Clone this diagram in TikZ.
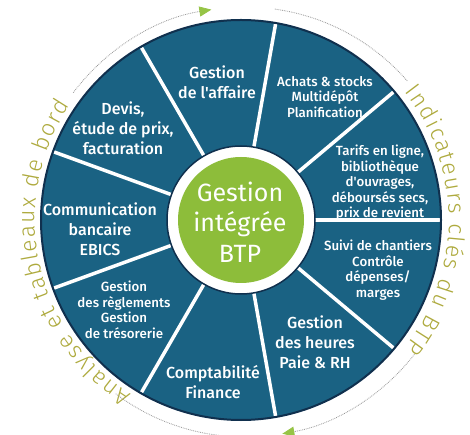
\documentclass[tikz,border=0pt]{standalone}
\usepackage{fontspec}
\setmainfont{Fira Sans}
\newfontfamily\rimfont{Fira Sans Light}
\newfontfamily\segfont{Fira Sans Medium}
\usetikzlibrary{decorations.text,arrows.meta}
\definecolor{wheelblue}{RGB}{26,98,131}
\definecolor{wheelrim}{RGB}{16,48,78}
\definecolor{hubgreen}{RGB}{141,189,58}
\definecolor{rimtext}{RGB}{174,170,62}
\definecolor{dotgrey}{RGB}{150,150,150}
\definecolor{tipgreen}{RGB}{150,196,70}
\begin{document}
\begin{tikzpicture}[x=1pt,y=1pt,
  lbl/.style={text=white, align=center, inner sep=0pt},
  big/.style={lbl, font=\segfont\fontsize{16}{20}\selectfont},
  small/.style={lbl, font=\segfont\fontsize{13.3}{15.5}\selectfont},
  loop/.style={dotgrey, densely dotted, line width=0.8pt, shift={(4,-2)}},
  rim/.style={decorate, decoration={text along path, text align=fit to path,
    text color=rimtext, text={|\rimfont\fontsize{23}{23}\selectfont|#1}}}]
\useasboundingbox (-241,-215) rectangle (229,220);
\fill[wheelblue] (0,0) circle[radius=200pt];
\foreach \a in {0,40,...,320}
  \draw[white, line width=3.5pt] (\a:74pt) -- (\a:199pt);
\draw[wheelrim, line width=2pt] (0,0) circle[radius=200pt];
\draw[wheelrim, line width=1.5pt, fill=white] (0,0) circle[radius=74pt];
\fill[hubgreen] (0,0) circle[radius=63pt];
\node[lbl, font=\fontsize{25}{30.5}\selectfont] (hub) at (-1,-2) {Gestion\\intégrée\\BTP};
\node[big] (affaire) at (-24,138) {Gestion\\de l'affaire};
\node[small] (achats) at (84,123) {Achats \& stocks\\Multidépôt\\Planification};
\node[small] (tarifs) at (139,37) {Tarifs en ligne,\\bibliothèque\\d'ouvrages,\\déboursés secs,\\prix de revient};
\node[small] (suivi) at (137,-50) {Suivi de chantiers\\Contrôle\\dépenses/\\marges};
\node[big] (heures) at (74,-122) {Gestion\\des heures\\Paie \& RH};
\node[big] (compta) at (-28,-162) {Comptabilité\\Finance};
\node[small] (reglements) at (-117,-90) {Gestion\\des règlements\\Gestion\\de trésorerie};
\node[big] (banque) at (-141,-9) {Communication\\bancaire\\EBICS};
\node[big] (devis) at (-118,92) {Devis,\\étude de prix,\\facturation};
\path[rim={Analyse et tableaux de bord}] (238:206pt) arc[start angle=238, end angle=146, radius=206pt];
\path[rim={Indicateurs clés du BTP}] (38:208pt) arc[start angle=38, end angle=-38, radius=208pt];
\draw[loop, -{Triangle[length=12pt,width=10pt,color=tipgreen]}] (143:215pt) arc[start angle=143, end angle=99, radius=215pt];
\draw[loop] (82:215pt) arc[start angle=82, end angle=41, radius=215pt];
\draw[loop, -{Triangle[length=12pt,width=10pt,color=tipgreen]}] (-38:215pt) arc[start angle=-38, end angle=-80, radius=215pt];
\draw[loop] (-97:215pt) arc[start angle=-97, end angle=-127, radius=215pt];
\end{tikzpicture}
\end{document}
